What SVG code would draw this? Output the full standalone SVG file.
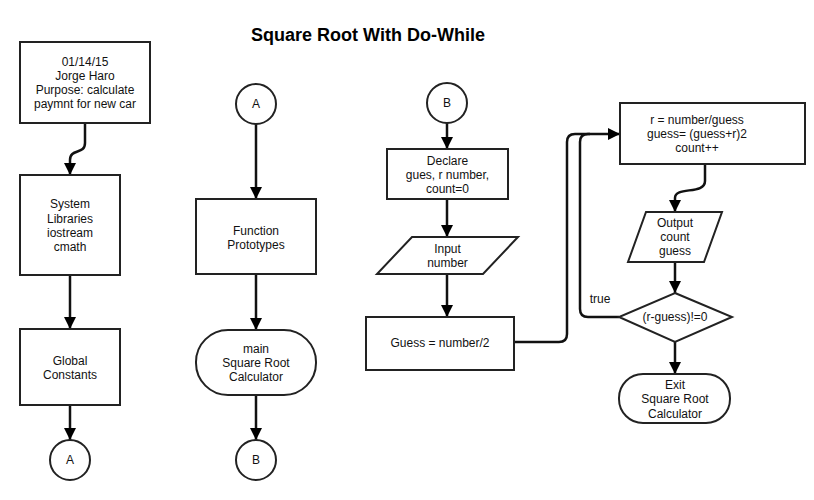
<svg xmlns="http://www.w3.org/2000/svg" width="814" height="500" viewBox="0 0 814 500">
<defs>
<marker id="arr" markerUnits="userSpaceOnUse" markerWidth="14" markerHeight="14" refX="12" refY="6" orient="auto">
<path d="M0,0 L12,6 L0,12 Z" fill="#000"/>
</marker>
<style>
.s{fill:#fff;stroke:#222;stroke-width:2}
.t{font-family:"Liberation Sans",Arial,sans-serif;font-size:12px;fill:#111;text-anchor:middle}
.c{fill:none;stroke:#111;stroke-width:2.5;marker-end:url(#arr)}
.l{fill:none;stroke:#111;stroke-width:2.5}
</style>
</defs>
<rect width="814" height="500" fill="#fff"/>
<text x="368" y="41" style="font-family:'Liberation Sans',Arial,sans-serif;font-size:18px;font-weight:bold;text-anchor:middle" fill="#000">Square Root With Do-While</text>

<g id="connectors">
<path class="c" d="M85,123 V143 C85,155 70,148 70,160 V175"/>
<path class="c" d="M70,275 V329"/>
<path class="c" d="M70,405 V440"/>
<path class="c" d="M256,124 V199"/>
<path class="c" d="M256,274 V330"/>
<path class="c" d="M256,395 V440"/>
<path class="c" d="M447,123 V149"/>
<path class="c" d="M447,199 V237"/>
<path class="c" d="M447,274 V317"/>
<path class="l" d="M514,342 H559 Q567,342 567,334 V142 Q567,134 575,134 H590"/>
<path class="c" d="M619,317 H588 Q580,317 580,309 V142 Q580,134 588,134 H620"/>
<path class="c" d="M705,164 V181 C705,195 675,186 675,198 V212"/>
<path class="c" d="M675,262 V293"/>
<path class="c" d="M675,342 V374"/>
<text class="t" x="600" y="303">true</text>
</g>

<g id="n1"><rect class="s" x="20" y="42" width="130" height="81"/>
<text class="t" x="85" y="66">01/14/15</text><text class="t" x="85" y="80">Jorge Haro</text><text class="t" x="85" y="94">Purpose: calculate</text><text class="t" x="85" y="108">paymnt for new car</text></g>

<g id="n2"><rect class="s" x="20" y="175" width="100" height="100"/>
<text class="t" x="70" y="208">System</text><text class="t" x="70" y="222.5">Libraries</text><text class="t" x="70" y="236.5">iostream</text><text class="t" x="70" y="250.5">cmath</text></g>

<g id="n3"><rect class="s" x="20" y="329" width="100" height="76"/>
<text class="t" x="70" y="365">Global</text><text class="t" x="70" y="379">Constants</text></g>

<g id="n4"><circle class="s" cx="70" cy="460" r="20"/><text class="t" x="70" y="464">A</text></g>

<g id="n5"><circle class="s" cx="256" cy="104" r="20"/><text class="t" x="256" y="108">A</text></g>

<g id="n6"><rect class="s" x="196" y="199" width="120" height="75"/>
<text class="t" x="256" y="235">Function</text><text class="t" x="256" y="249">Prototypes</text></g>

<g id="n7"><rect class="s" x="196" y="330" width="120" height="65" rx="32" ry="32"/>
<text class="t" x="256" y="352.5">main</text><text class="t" x="256" y="367">Square Root</text><text class="t" x="256" y="381">Calculator</text></g>

<g id="n8"><circle class="s" cx="256" cy="460" r="20"/><text class="t" x="256" y="464">B</text></g>

<g id="n9"><circle class="s" cx="447" cy="103" r="20"/><text class="t" x="447" y="107">B</text></g>

<g id="n10"><rect class="s" x="387" y="149" width="121" height="50"/>
<text class="t" x="447.5" y="165">Declare</text><text class="t" x="447.5" y="179">gues, r number,</text><text class="t" x="447.5" y="193">count=0</text></g>

<g id="n11"><polygon class="s" points="412,237 518,237 483,274 377,274"/>
<text class="t" x="447.5" y="253">Input</text><text class="t" x="447.5" y="267">number</text></g>

<g id="n12"><rect class="s" x="366" y="317" width="148" height="53"/>
<text class="t" x="440" y="347">Guess = number/2</text></g>

<g id="n13"><rect class="s" x="620" y="103" width="185" height="61"/>
<text class="t" x="697" y="124">r = number/guess</text><text class="t" x="697" y="138">guess= (guess+r)2</text><text class="t" x="697" y="152">count++</text></g>

<g id="n14"><polygon class="s" points="646,212 722,212 704,262 628,262"/>
<text class="t" x="675" y="227">Output</text><text class="t" x="675" y="241">count</text><text class="t" x="675" y="255">guess</text></g>

<g id="n15"><polygon class="s" points="675,293 732,317 675,342 619,317"/>
<text class="t" x="675" y="321">(r-guess)!=0</text></g>

<g id="n16"><rect class="s" x="619" y="374" width="111" height="49" rx="24" ry="24"/>
<text class="t" x="675" y="389">Exit</text><text class="t" x="675" y="403">Square Root</text><text class="t" x="675" y="418">Calculator</text></g>
</svg>
